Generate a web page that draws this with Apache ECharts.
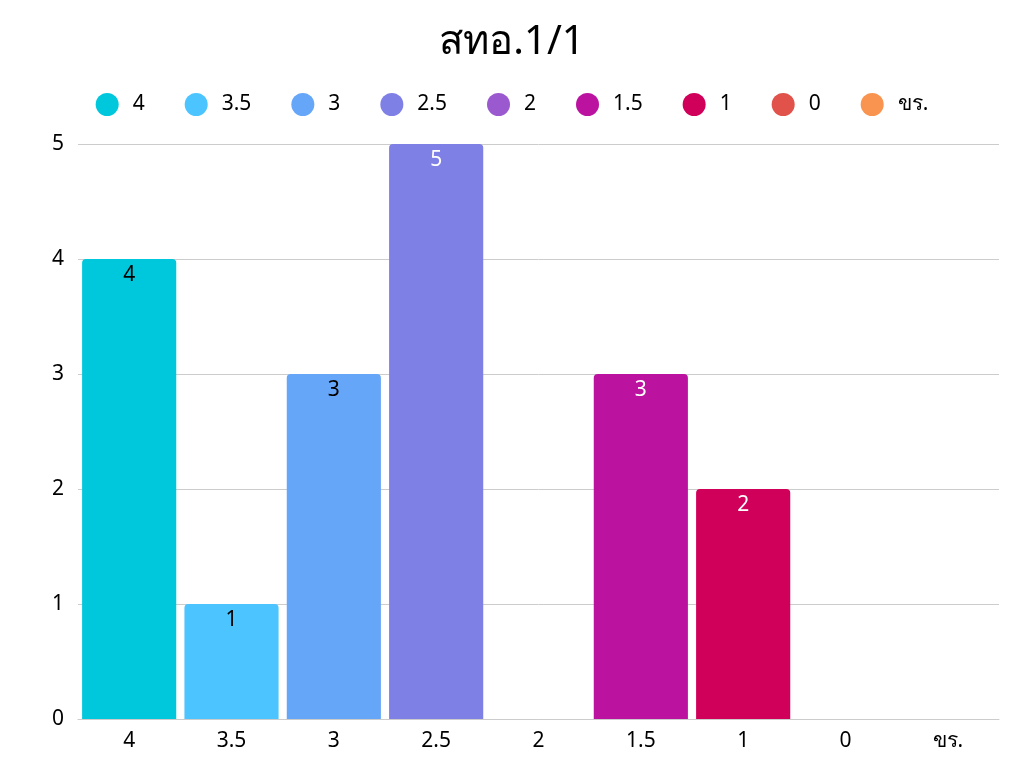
<!DOCTYPE html>
<html>
<head>
<meta charset="utf-8">
<script src="https://cdn.jsdelivr.net/npm/echarts@6/dist/echarts.min.js"></script>
<style>
  html, body { margin: 0; padding: 0; background: #fff; }
  #main { width: 1024px; height: 768px; }
</style>
</head>
<body>
<div id="main"></div>
<script>
// ข้อมูล
var categories = ['4', '3.5', '3', '2.5', '2', '1.5', '1', '0', 'ขร.'];
var counts = [4, 1, 3, 5, 0, 3, 2, 0, 0];
var colors = ['#00c8dc', '#4bc4ff', '#66a6f8', '#7f80e6', '#9b59d0', '#bb13a0', '#d0005a', '#e0524a', '#f99450'];
var labelColors = ['#000', '#000', '#000', '#fff', '#fff', '#fff', '#fff', '#fff', '#000'];
var yTicks = [0, 1, 2, 3, 4, 5];

var chart = echarts.init(document.getElementById('main'));

// one series per category so the legend shows every grade
var series = categories.map(function (name, i) {
    var data = categories.map(function (c, j) { return j === i ? counts[i] : null; });
    return {
        name: name,
        type: 'bar',
        stack: 'all',
        barWidth: '92%',
        data: data,
        itemStyle: { color: colors[i], borderRadius: [4, 4, 0, 0] },
        label: {
            show: counts[i] > 0,
            position: 'insideTop',
            distance: 6,
            color: labelColors[i],
            fontSize: 21,
            fontFamily: 'Noto Sans'
        }
    };
});

var option = {
    textStyle: { fontFamily: 'Noto Sans' },
    title: {
        text: 'สทอ.1/1',
        left: 'center',
        top: 18,
        textStyle: { fontSize: 40, fontWeight: 'normal', color: '#000', fontFamily: 'Noto Sans' }
    },
    legend: {
        top: 88,
        left: 'center',
        icon: 'circle',
        itemWidth: 23,
        itemHeight: 23,
        itemGap: 40,
        textStyle: { fontSize: 21, color: '#000', padding: [0, 0, 0, 9] },
        data: categories
    },
    grid: { left: 78, right: 25, top: 144, bottom: 49, containLabel: false },
    xAxis: {
        type: 'category',
        data: categories,
        axisTick: { show: false },
        axisLine: { lineStyle: { color: '#ccc' } },
        axisLabel: { fontSize: 21, color: '#000', margin: 12 }
    },
    yAxis: {
        type: 'value',
        min: yTicks[0],
        max: yTicks[yTicks.length - 1],
        interval: 1,
        axisLabel: { fontSize: 21, color: '#000', margin: 14 },
        splitLine: { lineStyle: { color: '#ccc' } }
    },
    series: series
};

chart.setOption(option);
</script>
</body>
</html>
